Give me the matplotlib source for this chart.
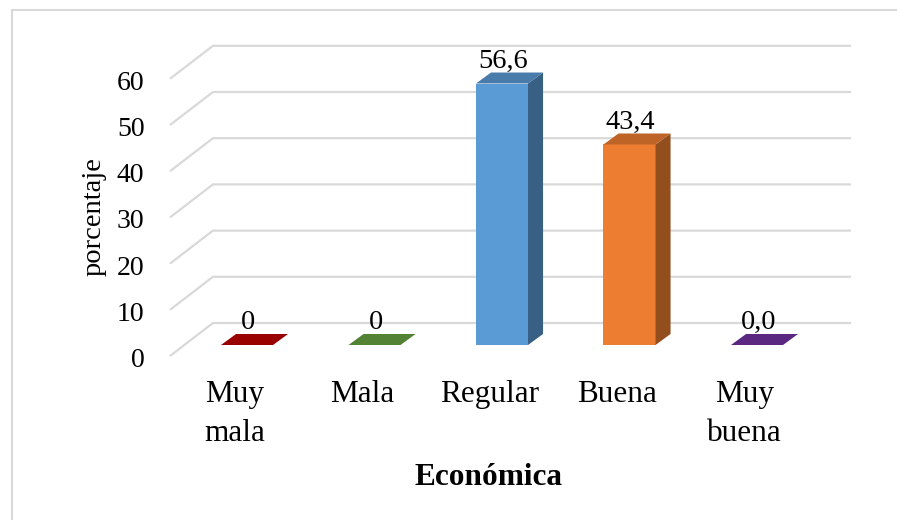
import numpy as np
import matplotlib.pyplot as plt
from matplotlib.patches import Polygon
from matplotlib.lines import Line2D
from matplotlib.colors import to_rgb

# Data
categories = ["Muy\nmala", "Mala", "Regular", "Buena", "Muy\nbuena"]
values = [0, 0, 56.6, 43.4, 0.0]
decimals = [0, 0, 1, 1, 1]
colors = ["#990000", "#548235", "#5B9BD5", "#ED7D31", "#5A2781"]
y_ticks = [0, 10, 20, 30, 40, 50, 60]

plt.rcParams['font.family'] = ['Liberation Serif', 'DejaVu Serif']

fig = plt.figure(figsize=(8.97, 5.2), dpi=100)
ax = fig.add_axes([0, 0, 1, 1])
ax.axis('off')

# pixel geometry -> data units (x: category index, y: percent)
px_x = 127.5      # pixels per category
px_y = 4.62       # pixels per percent
ax.set_xlim(-247 / px_x, (897 - 247) / px_x)
ax.set_ylim((345 - 520) / px_y, 345 / px_y)

# walls: front edge and back edge of the floor/gridlines
front_x, front_dy = -0.604, -11 / px_y
back_x, back_dy, back_end = -0.267, 22 / px_y, 4.737
grid_col = "#d9d9d9"
for t in y_ticks:
    ax.plot([front_x, back_x, back_end], [t + front_dy, t + back_dy, t + back_dy],
            color=grid_col, lw=1.6, solid_capstyle='butt', zorder=1)
    ax.text(-0.804, t + front_dy - 11 / px_y, str(t), ha='right', va='baseline',
            fontsize=20, color='black')

# bars with a small depth offset
bw = 0.408
ddx, ddy = 0.118, 11 / px_y


def shade(c, f):
    r, g, b = to_rgb(c)
    return (r * f, g * f, b * f)


for i, (v, c) in enumerate(zip(values, colors)):
    x0, x1 = i - bw / 2, i + bw / 2
    if v > 0:
        ax.add_patch(Polygon([(x0, 0), (x1, 0), (x1, v), (x0, v)],
                             closed=True, fc=c, ec='none', zorder=3))
        ax.add_patch(Polygon([(x1, 0), (x1 + ddx, ddy), (x1 + ddx, v + ddy), (x1, v)],
                             closed=True, fc=shade(c, 0.62), ec='none', zorder=3))
        top_col = shade(c, 0.8)
    else:
        top_col = c
    ax.add_patch(Polygon([(x0, v), (x1, v), (x1 + ddx, v + ddy), (x0 + ddx, v + ddy)],
                         closed=True, fc=top_col, ec='none', zorder=4))
    lab = f"{v:.{decimals[i]}f}".replace('.', ',')
    ax.text(i + 0.01, v + ddy + 5 / px_y, lab, ha='center', va='baseline',
            fontsize=20.5, color='black', zorder=5)

# category labels, one text per line
for i, cat in enumerate(categories):
    for k, line in enumerate(cat.split('\n')):
        ax.text(i - 0.1, (345 - 402 - 39 * k) / px_y, line, ha='center',
                va='baseline', fontsize=22.5, color='black')

ax.text((488 - 247) / px_x, (345 - 485) / px_y, "Económica", ha='center',
        va='baseline', fontsize=22.5, fontweight='bold', color='black')

fig.text(94 / 897, 1 - 217 / 520, "porcentaje", rotation=90, ha='center',
         va='center', fontsize=20.5, color='black')

# chart area border (left and top edges)
fig.add_artist(Line2D([12 / 897, 12 / 897], [0, 1 - 10 / 520],
                      transform=fig.transFigure, color=grid_col, lw=1.5))
fig.add_artist(Line2D([12 / 897, 1], [1 - 10 / 520, 1 - 10 / 520],
                      transform=fig.transFigure, color=grid_col, lw=1.5))

fig.savefig('out.png', dpi=100)
